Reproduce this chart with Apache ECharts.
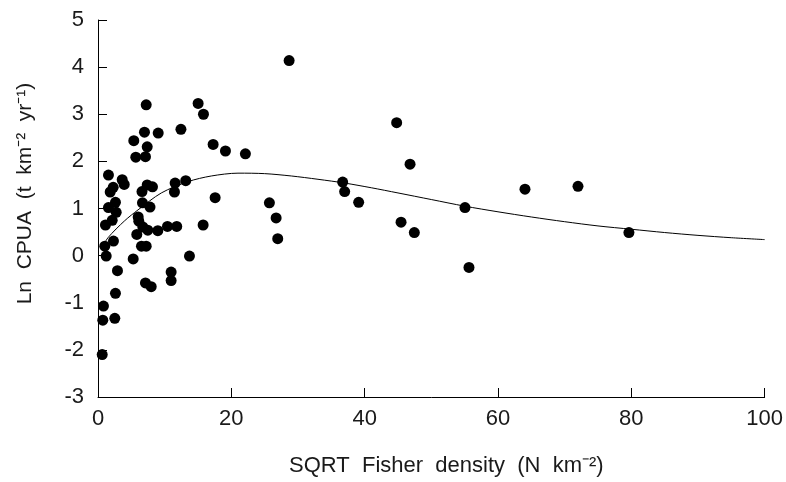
<!DOCTYPE html>
<html>
<head>
<meta charset="utf-8">
<script src="https://cdn.jsdelivr.net/npm/echarts@6/dist/echarts.min.js"></script>
<style>html,body{margin:0;padding:0;background:#fff}#c{width:786px;height:482px}</style>
</head>
<body>
<div id="c"></div>
<script>
var xTicks = [0, 20, 40, 60, 80, 100];
var yTicks = [-3, -2, -1, 0, 1, 2, 3, 4, 5];
var xTitle = 'SQRT  Fisher  density  (N  km\u207B\u00B2)';
var yTitle = 'Ln  CPUA  (t  km\u207B\u00B2  yr\u207B\u00B9)';

var densityX = [28.67,15.02,7.23,15.82,12.44,44.80,6.97,9.03,5.37,7.38,17.27,19.12,22.11,5.67,7.12,46.81,
  1.57,3.63,3.93,2.28,1.83,7.38,8.17,11.57,13.16,11.47,36.70,37.00,72.0,64.05,17.57,2.62,6.67,25.71,39.10,
  1.57,2.73,7.80,55.05,6.03,6.12,26.72,45.46,2.13,1.12,6.72,7.47,8.97,10.42,11.81,15.77,47.45,79.64,5.82,
  26.96,2.32,1.02,6.52,7.23,1.23,13.72,5.28,55.65,2.92,10.97,10.97,7.12,7.98,2.62,0.82,0.72,2.52,0.63,6.6];
var cpuaY = [4.14,3.23,3.20,3.00,2.68,2.82,2.62,2.60,2.44,2.31,2.36,2.22,2.16,2.09,2.10,1.94,
  1.71,1.61,1.51,1.45,1.35,1.50,1.46,1.54,1.59,1.35,1.56,1.36,1.47,1.41,1.23,1.13,1.12,1.12,1.13,
  1.02,0.92,1.03,1.02,0.82,0.73,0.80,0.71,0.75,0.65,0.61,0.54,0.53,0.62,0.62,0.65,0.49,0.49,0.45,
  0.36,0.31,0.20,0.20,0.20,-0.01,-0.01,-0.07,-0.25,-0.32,-0.35,-0.53,-0.58,-0.66,-0.80,-1.07,-1.37,-1.33,-2.10,1.36];

var curveX = [0.5, 1.5, 4.0, 6.0, 9.5, 13.5, 17.0, 21.0, 25.0, 29.0, 33.0, 37.0, 41.0, 45.0, 50.0, 55.0, 60.0, 65.0, 70.0, 75.0, 80.0, 85.0, 90.0, 95.0, 100];
var curveY = [0.14, 0.38, 0.74, 0.97, 1.33, 1.57, 1.69, 1.75, 1.74, 1.69, 1.62, 1.54, 1.44, 1.33, 1.19, 1.05, 0.93, 0.82, 0.72, 0.63, 0.56, 0.49, 0.43, 0.38, 0.34];

var pts = densityX.map(function (x, i) { return [x, cpuaY[i]]; });
var curve = curveX.map(function (x, i) { return [x, curveY[i]]; });

var chart = echarts.init(document.getElementById('c'));
var font = 'Liberation Sans';
chart.setOption({
  animation: false,
  backgroundColor: '#fff',
  grid: { left: 98, right: 21, top: 20, bottom: 84 },
  xAxis: {
    type: 'value', min: xTicks[0], max: xTicks[xTicks.length - 1], interval: 20,
    name: xTitle, nameLocation: 'middle', nameGap: 58,
    nameTextStyle: { fontFamily: font, fontSize: 22, color: '#1a1a1a', padding: [0, 0, 0, 30] },
    axisLine: { show: true, onZero: false, lineStyle: { color: '#000', width: 1 } },
    axisTick: { show: true, inside: true, length: 9, lineStyle: { color: '#000' } },
    axisLabel: { fontFamily: font, fontSize: 22, color: '#1a1a1a', margin: 11 },
    splitLine: { show: false }
  },
  yAxis: {
    type: 'value', min: yTicks[0], max: yTicks[yTicks.length - 1], interval: 1,
    name: yTitle, nameLocation: 'middle', nameGap: 62, nameRotate: 90,
    nameTextStyle: { fontFamily: font, fontSize: 21, color: '#1a1a1a', padding: [0, 0, 0, 30] },
    axisLine: { show: true, onZero: false, lineStyle: { color: '#000', width: 1 } },
    axisTick: { show: true, inside: true, length: 9, lineStyle: { color: '#000' } },
    axisLabel: { fontFamily: font, fontSize: 22, color: '#1a1a1a', margin: 14 },
    splitLine: { show: false }
  },
  series: [
    {
      type: 'line', data: curve, smooth: 0.3, showSymbol: false, symbol: 'none',
      lineStyle: { color: '#000', width: 1 }, z: 2
    },
    {
      type: 'scatter', data: pts, symbol: 'circle', symbolSize: 11,
      itemStyle: { color: '#000', opacity: 1 }, z: 3
    }
  ]
});
</script>
</body>
</html>
